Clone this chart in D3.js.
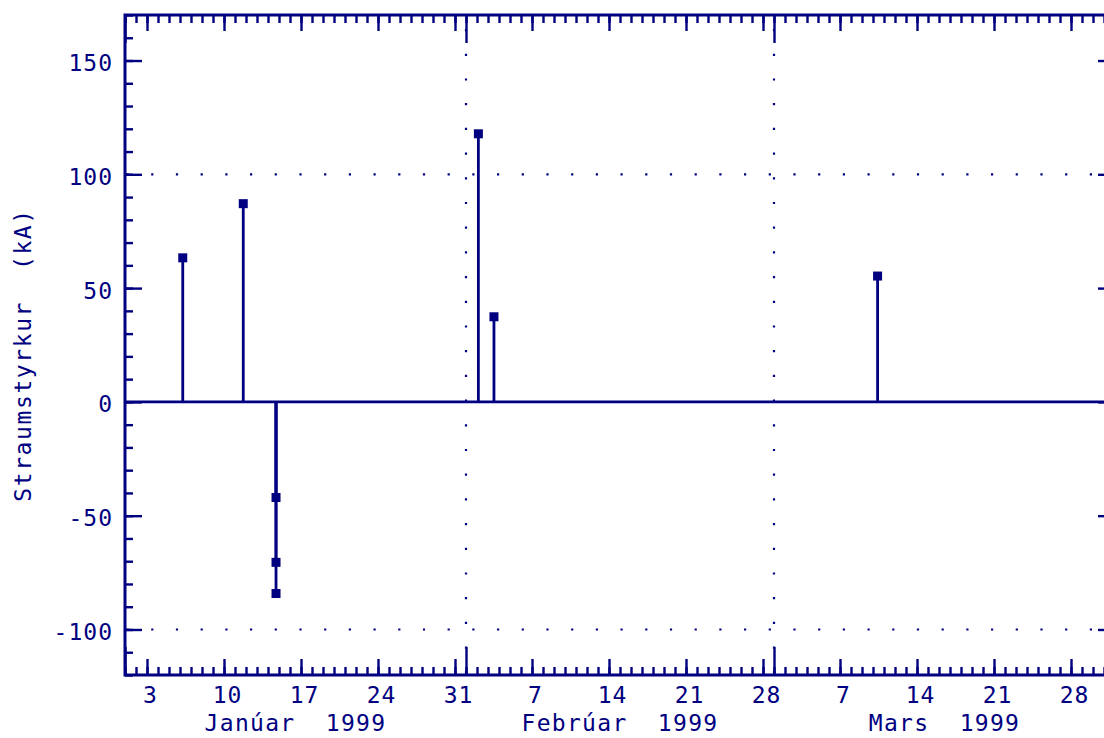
<!DOCTYPE html>
<html>
<head>
<meta charset="utf-8">
<script src="https://cdn.jsdelivr.net/npm/d3@7"></script>
<style>
  html, body { margin: 0; padding: 0; background: #fff; overflow: hidden; }
  svg { display: block; }
  text { font-family: "DejaVu Sans Mono", "Liberation Mono", monospace; fill: #000080; white-space: pre; }
</style>
</head>
<body>
<svg id="chart" width="1104" height="738"></svg>
<script>
// ---------- data ----------
const eventTimes = [
  "1999-01-06T06:00Z", "1999-01-11T18:00Z",
  "1999-01-14T17:30Z", "1999-01-14T17:30Z", "1999-01-14T17:30Z",
  "1999-02-02T03:00Z", "1999-02-03T13:00Z", "1999-03-10T10:00Z"
];
const currents = [63.3, 87.1, -42, -70.5, -84.2, 117.8, 37.4, 55.3];

const yTickValues = [150, 100, 50, 0, -50, -100];
const yTickLabels = ["150", "100", "50", "0", "-50", "-100"];
const gridValues = [100, -100];
const weekTickLabels = ["3", "10", "17", "24", "31", "7", "14", "21", "28", "7", "14", "21", "28"];
const monthLabels = ["Janúar\u00A0\u00A01999", "Febrúar\u00A0\u00A01999", "Mars\u00A0\u00A01999"];
const yTitle = "Straumstyrkur\u00A0\u00A0(kA)";

// ---------- layout ----------
const color = "#000080";
const L = 125, R = 1115, T = 15, B = 675;
const svg = d3.select("#chart");

const x = d3.scaleUtc()
  .domain([new Date(Date.UTC(1999, 0, 1)), new Date(Date.UTC(1999, 3, 1))])
  .range([L, R]);
const y = d3.scaleLinear().domain([-120, 170]).range([B, T]);

const points = eventTimes.map((t, i) => ({ t: new Date(t), v: currents[i] }));

// ---------- grid (dotted) ----------
const monthStarts = d3.utcMonth.range(x.domain()[0], x.domain()[1]).slice(1);
svg.append("g").selectAll("line").data(monthStarts).join("line")
  .attr("x1", d => x(d)).attr("x2", d => x(d))
  .attr("y1", T + 2).attr("y2", B)
  .attr("stroke", color).attr("stroke-width", 2.2)
  .attr("stroke-dasharray", "2.2,22.5").attr("stroke-dashoffset", -12);
svg.append("g").selectAll("line").data(gridValues).join("line")
  .attr("x1", L).attr("x2", R)
  .attr("y1", d => y(d)).attr("y2", d => y(d))
  .attr("stroke", color).attr("stroke-width", 2.2)
  .attr("stroke-dasharray", "2.2,22.5").attr("stroke-dashoffset", -1.5);

// ---------- zero line ----------
svg.append("line")
  .attr("x1", L).attr("x2", R).attr("y1", y(0)).attr("y2", y(0))
  .attr("stroke", color).attr("stroke-width", 2.6);

// ---------- stems and markers ----------
svg.append("g").selectAll("line").data(points).join("line")
  .attr("x1", d => x(d.t)).attr("x2", d => x(d.t))
  .attr("y1", y(0)).attr("y2", d => y(d.v))
  .attr("stroke", color).attr("stroke-width", 2.8);
const ms = 9;
svg.append("g").selectAll("rect").data(points).join("rect")
  .attr("x", d => x(d.t) - ms / 2).attr("y", d => y(d.v) - ms / 2)
  .attr("width", ms).attr("height", ms)
  .attr("fill", color);

// ---------- axes ticks ----------
function styleAxis(g) {
  g.select(".domain").remove();
  g.selectAll(".tick line").attr("stroke", color).attr("stroke-width", 2.4);
  g.selectAll(".tick text").remove();
}
[[d3.utcDay, 8], [d3.utcSunday, 16], [d3.utcMonth, 28]].forEach(([iv, s]) => {
  svg.append("g").attr("transform", `translate(0,${B})`)
    .call(d3.axisBottom(x).ticks(iv).tickSize(-s).tickFormat(""))
    .call(styleAxis);
  svg.append("g").attr("transform", `translate(0,${T})`)
    .call(d3.axisTop(x).ticks(iv).tickSize(-s).tickFormat(""))
    .call(styleAxis);
});
const yMinor = d3.range(-120, 171, 10);
[[yMinor, 8], [yTickValues, 17]].forEach(([vals, s]) => {
  svg.append("g").attr("transform", `translate(${L},0)`)
    .call(d3.axisLeft(y).tickValues(vals).tickSize(-s).tickFormat(""))
    .call(styleAxis);
  svg.append("g").attr("transform", `translate(${R},0)`)
    .call(d3.axisRight(y).tickValues(vals).tickSize(-s).tickFormat(""))
    .call(styleAxis);
});

// frame
svg.append("rect")
  .attr("x", L).attr("y", T).attr("width", R - L).attr("height", B - T)
  .attr("fill", "none").attr("stroke", color).attr("stroke-width", 3);

// ---------- labels ----------
const fs = 23;
svg.append("g").selectAll("text").data(yTickValues).join("text")
  .attr("x", L - 12).attr("y", d => y(d) + 10.5)
  .attr("text-anchor", "end").attr("font-size", fs).attr("letter-spacing", 1)
  .text((d, i) => yTickLabels[i]);

const sundays = d3.utcSunday.range(x.domain()[0], x.domain()[1]);
svg.append("g").selectAll("text").data(sundays).join("text")
  .attr("x", d => x(d) + 3.5).attr("y", 703)
  .attr("text-anchor", "middle").attr("font-size", fs).attr("letter-spacing", 1)
  .text((d, i) => weekTickLabels[i]);

const months = d3.utcMonth.range(x.domain()[0], x.domain()[1]);
svg.append("g").selectAll("text").data(months).join("text")
  .attr("x", d => (x(d) + x(d3.utcMonth.offset(d, 1))) / 2)
  .attr("y", 731)
  .attr("text-anchor", "middle").attr("font-size", fs).attr("letter-spacing", 1.3)
  .text((d, i) => monthLabels[i]);

svg.append("text")
  .attr("transform", `translate(31,${355}) rotate(-90)`)
  .attr("text-anchor", "middle").attr("font-size", fs).attr("letter-spacing", 1.6)
  .text(yTitle);
</script>
</body>
</html>
